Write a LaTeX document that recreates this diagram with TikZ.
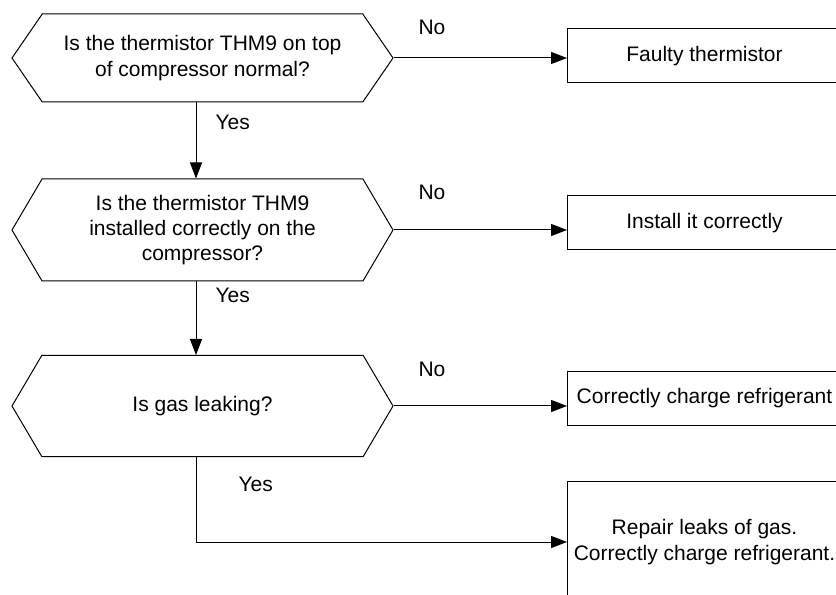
\documentclass[tikz,border=0pt]{standalone}
\usepackage{fontspec}
\setmainfont{Liberation Sans}
\usetikzlibrary{shapes.symbols,arrows.meta}
\begin{document}
\begin{tikzpicture}[x=0.75pt, y=-0.75pt, line width=0.75pt, font=\fontsize{15.75}{19}\selectfont,
        hexq/.style={draw, shape=signal, signal to=west and east, minimum width=285.75pt, align=center, inner sep=1pt},
        box/.style={draw, rectangle, anchor=west, minimum width=205.5pt, minimum height=40.5pt, align=center, inner sep=0pt},
        lbl/.style={anchor=west, inner sep=0pt},
        arr/.style={-{Triangle[length=12pt, width=9pt]}}]
        \useasboundingbox (0,0) rectangle (836,595);
        \clip (0,0) rectangle (836,595);
        \coordinate (spine) at (196,0);
        \node[hexq, minimum height=66pt, signal pointer angle=111] (q1) at (202.5,58) {Is the thermistor THM9 on top\\of compressor normal?};
        \node[hexq, minimum height=76.5pt, signal pointer angle=119] (q2) at (202.5,230) {Is the thermistor THM9\\installed correctly on the\\compressor?};
        \node[hexq, minimum height=75.75pt, signal pointer angle=119] (q3) at (202.5,406) {Is gas leaking?};
        \node[box] (a1) at (567,56) {Faulty thermistor};
        \node[box] (a2) at (567,223) {Install it correctly};
        \node[box] (a3) at (567,398.5) {Correctly charge refrigerant};
        \node[box, minimum height=91.5pt] (a4) at (567,542) {Repair leaks of gas.\\Correctly charge refrigerant.};
        \node[lbl] (no1) at (418,27) {No};
        \node[lbl] (no2) at (418,192) {No};
        \node[lbl] (no3) at (418,369) {No};
        \node[lbl] (yes1) at (215,122) {Yes};
        \node[lbl] (yes2) at (215,295) {Yes};
        \node[lbl] (yes3) at (238,484) {Yes};
        \draw[arr] (q1.east) -- (q1.east -| a1.west);
        \draw[arr] (q2.east) -- (q2.east -| a2.west);
        \draw[arr] (q3.east) -- (q3.east -| a3.west);
        \draw[arr] (q1.south -| spine) -- (q2.north -| spine);
        \draw[arr] (q2.south -| spine) -- (q3.north -| spine);
        \draw[arr] (q3.south -| spine) |- (a4.west);% last branch
    \end{tikzpicture}
\end{document}
